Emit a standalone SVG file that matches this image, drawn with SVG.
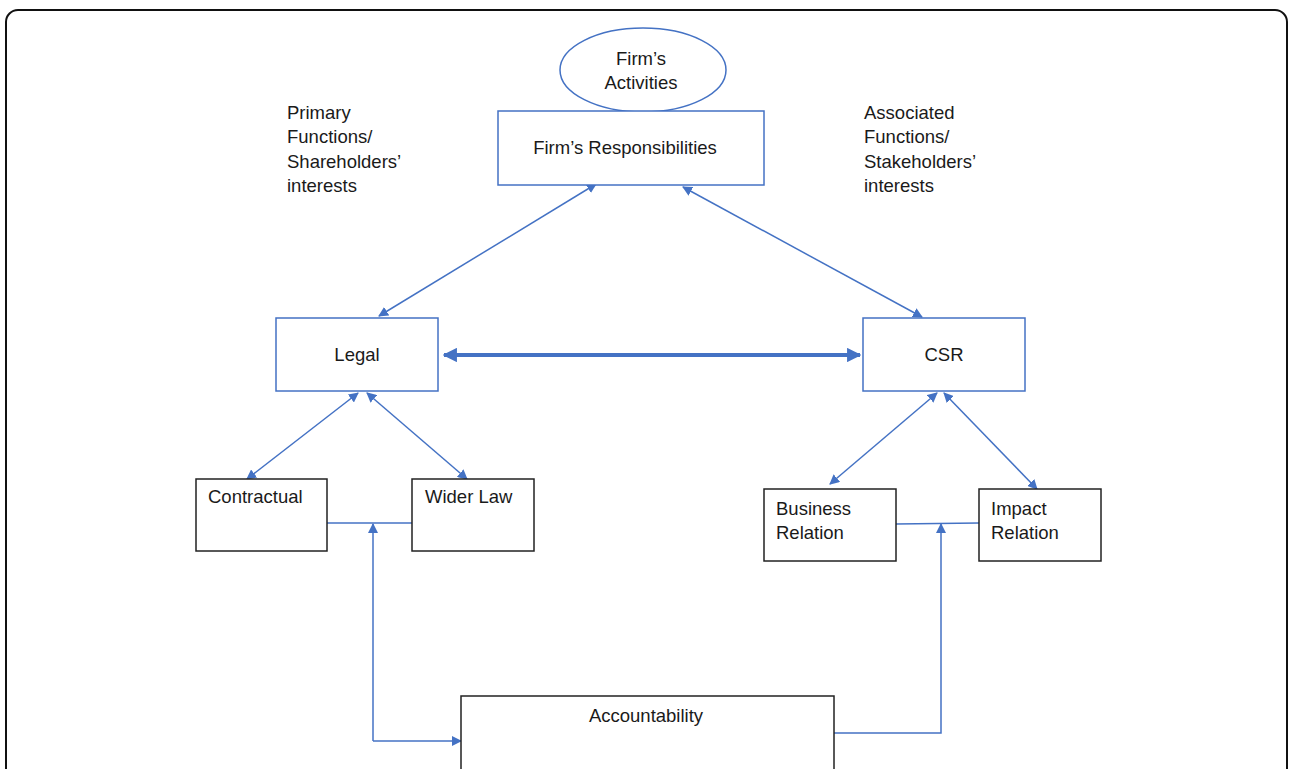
<svg xmlns="http://www.w3.org/2000/svg" width="1289" height="769" viewBox="0 0 1289 769">
<style>
.t{font-family:"Liberation Sans",Arial,sans-serif;font-size:18.5px;fill:#1a1a1a}
.c{text-anchor:middle}
.bb{fill:#fff;stroke:#4472C4;stroke-width:1.5}
.kb{fill:#fff;stroke:#222;stroke-width:1.5}
.ln{fill:none;stroke:#4472C4;stroke-width:1.5}
.thick{fill:none;stroke:#4472C4;stroke-width:4}
</style>
<defs>
<marker id="ahs" viewBox="0 0 10 10" refX="9" refY="5" markerWidth="3.6" markerHeight="3.6" orient="auto-start-reverse">
<path d="M0,0 L10,5 L0,10 z" fill="#4472C4"/>
</marker>
<marker id="ah2" viewBox="0 0 10 10" refX="9" refY="5" markerWidth="10" markerHeight="10" markerUnits="userSpaceOnUse" orient="auto-start-reverse">
<path d="M0,0 L10,5 L0,10 z" fill="#4472C4"/>
</marker>
</defs>
<rect x="6" y="10" width="1281" height="820" rx="12" fill="#fff" stroke="#111" stroke-width="2"/>

<g id="connectors">
<line class="ln" x1="596" y1="184" x2="379" y2="316" marker-start="url(#ah2)" marker-end="url(#ah2)"/>
<line class="ln" x1="683" y1="187" x2="922" y2="317" marker-start="url(#ah2)" marker-end="url(#ah2)"/>
<line class="thick" x1="444" y1="355" x2="860" y2="355" marker-start="url(#ahs)" marker-end="url(#ahs)"/>
<line class="ln" x1="358" y1="393" x2="247" y2="479" marker-start="url(#ah2)" marker-end="url(#ah2)"/>
<line class="ln" x1="367" y1="393" x2="467" y2="479" marker-start="url(#ah2)" marker-end="url(#ah2)"/>
<line class="ln" x1="937" y1="393" x2="830" y2="484" marker-start="url(#ah2)" marker-end="url(#ah2)"/>
<line class="ln" x1="944" y1="393" x2="1037" y2="489" marker-start="url(#ah2)" marker-end="url(#ah2)"/>
<line class="ln" x1="327" y1="523" x2="412" y2="523"/>
<line class="ln" x1="896" y1="524" x2="979" y2="523"/>
<path class="ln" d="M373,741 L373,524" marker-end="url(#ah2)"/>
<path class="ln" d="M373,741 L461,741" marker-end="url(#ah2)"/>
<path class="ln" d="M834,733 L941,733 L941,524" marker-end="url(#ah2)"/>
</g>

<g id="activities">
<ellipse cx="643" cy="70" rx="83" ry="42" fill="#fff" stroke="#4472C4" stroke-width="1.5"/>
<text class="t c" x="641" y="65">Firm’s</text>
<text class="t c" x="641" y="89">Activities</text>
</g>

<g id="responsibilities">
<rect class="bb" x="498" y="111" width="266" height="74"/>
<text class="t c" x="625" y="154">Firm’s Responsibilities</text>
</g>

<g id="primary-label">
<text class="t" x="287" y="119">Primary</text>
<text class="t" x="287" y="143">Functions/</text>
<text class="t" x="287" y="168">Shareholders’</text>
<text class="t" x="287" y="192">interests</text>
</g>

<g id="associated-label">
<text class="t" x="864" y="119">Associated</text>
<text class="t" x="864" y="143">Functions/</text>
<text class="t" x="864" y="168">Stakeholders’</text>
<text class="t" x="864" y="192">interests</text>
</g>

<g id="legal">
<rect class="bb" x="276" y="318" width="162" height="73"/>
<text class="t c" x="357" y="361">Legal</text>
</g>

<g id="csr">
<rect class="bb" x="863" y="318" width="162" height="73"/>
<text class="t c" x="944" y="361">CSR</text>
</g>

<g id="contractual">
<rect class="kb" x="196" y="479" width="131" height="72"/>
<text class="t" x="208" y="503">Contractual</text>
</g>

<g id="wider-law">
<rect class="kb" x="412" y="479" width="122" height="72"/>
<text class="t" x="425" y="503">Wider Law</text>
</g>

<g id="business-relation">
<rect class="kb" x="764" y="489" width="132" height="72"/>
<text class="t" x="776" y="515">Business</text>
<text class="t" x="776" y="539">Relation</text>
</g>

<g id="impact-relation">
<rect class="kb" x="979" y="489" width="122" height="72"/>
<text class="t" x="991" y="515">Impact</text>
<text class="t" x="991" y="539">Relation</text>
</g>

<g id="accountability">
<rect class="kb" x="461" y="696" width="373" height="90"/>
<text class="t c" x="646" y="722">Accountability</text>
</g>
</svg>
